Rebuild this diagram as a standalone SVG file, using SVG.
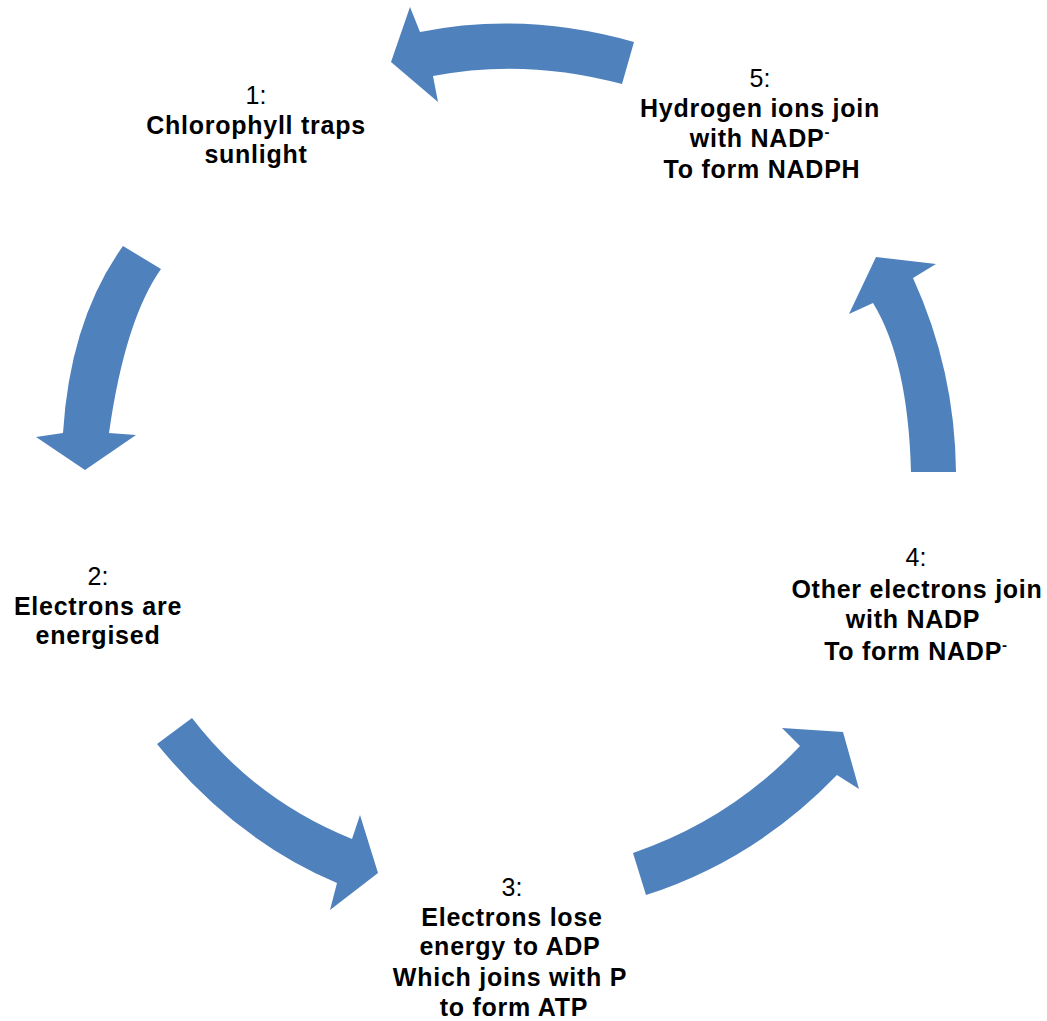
<svg xmlns="http://www.w3.org/2000/svg" width="1047" height="1021" viewBox="0 0 1047 1021">
<style>
.arrow{fill:#4F81BD;stroke:none}
.t{font-family:"Liberation Sans",Arial,sans-serif;font-size:25px;fill:#000;text-anchor:middle}
.b{font-weight:bold;letter-spacing:0.75px}
.sup{font-size:15px}
</style>
<rect width="1047" height="1021" fill="#fff"/>
<g id="connectors">
<path class="arrow" d="M634,42 Q525,11 420,32 L410,7 L391,62 L438,102 L433,76 Q525,58 622,84 Z"/>
<path class="arrow" d="M123,246 Q70,320 63,433 L36,437 L85,470 L136,435 L109,433 Q125,320 161,269 Z"/>
<path class="arrow" d="M157,744 Q235,840 337,883 L330,910 L378,873 L360,815 L352,839 Q255,800 192,718 Z"/>
<path class="arrow" d="M633,853 Q730,820 800,746 L782,728 L843,732 L859,789 L837,775 Q755,860 646,895 Z"/>
<path class="arrow" d="M911,472 Q908,360 873,303 L849,314 L876,257 L936,264 L913,278 Q955,370 956,472 Z"/>
</g>
<g id="node1">
<text class="t" x="256" y="104">1:</text>
<text class="t b" x="256" y="134">Chlorophyll traps</text>
<text class="t b" x="256" y="163">sunlight</text>
</g>
<g id="node2">
<text class="t" x="98" y="585">2:</text>
<text class="t b" x="98" y="615">Electrons are</text>
<text class="t b" x="98" y="644">energised</text>
</g>
<g id="node3">
<text class="t" x="512" y="896">3:</text>
<text class="t b" x="512" y="926">Electrons lose</text>
<text class="t b" x="510" y="955">energy to ADP</text>
<text class="t b" x="510" y="986">Which joins with P</text>
<text class="t b" x="514" y="1016">to form ATP</text>
</g>
<g id="node4">
<text class="t" x="916" y="566">4:</text>
<text class="t b" x="917" y="598">Other electrons join</text>
<text class="t b" x="913" y="628">with NADP</text>
<text class="t b" x="916" y="660">To form NADP<tspan class="sup" dy="-10">-</tspan></text>
</g>
<g id="node5">
<text class="t" x="760" y="87">5:</text>
<text class="t b" x="760" y="117">Hydrogen ions join</text>
<text class="t b" x="760" y="147">with NADP<tspan class="sup" dy="-10">-</tspan></text>
<text class="t b" x="762" y="178">To form NADPH</text>
</g>
</svg>
